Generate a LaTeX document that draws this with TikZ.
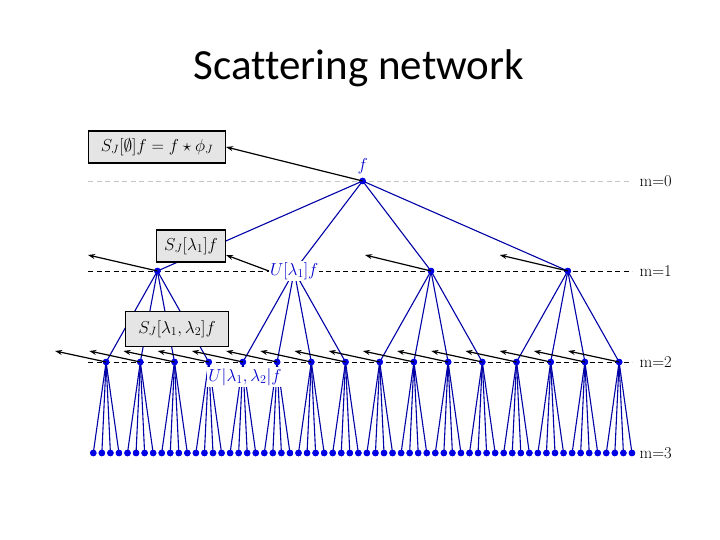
\documentclass[tikz,border=0pt]{standalone}
\usepackage{fontspec}
\newfontfamily\titlefont[Ligatures=NoCommon]{Carlito}
\usetikzlibrary{arrows.meta}
\tikzset{
  dot/.style={circle,fill=blue!90!black,inner sep=0pt,minimum size=6.5pt},
  edge/.style={blue!65!black,line width=1.1pt},
  outbox/.style={draw=black,fill=gray!20,line width=1.1pt,minimum height=32pt,font=\fontsize{16.5}{18}\selectfont},
  lab/.style={font=\fontsize{16.5}{18}\selectfont},
  outarrow/.style={-{Stealth[length=7pt,width=5pt]},line width=1.2pt},
  level/.style={dash pattern=on 5pt off 3.5pt,line width=0.9pt}
}
\begin{document}
\begin{tikzpicture}[x=1pt,y=-1pt]
  \useasboundingbox (0,0) rectangle (720,540);
  \node[font=\titlefont\fontsize{43}{48}\selectfont] (title) at (359,68) {Scattering network};
  % levels
  \draw[level,gray!45,line width=0.6pt] (88,181) -- (632,181);
  \draw[level] (88,271) -- (632,271);
  \draw[level] (88,362) -- (632,362);
  \node[lab,right] (m0) at (636,181) {m=0};
  \node[lab,right] (m1) at (636,271) {m=1};
  \node[lab,right] (m2) at (636,362) {m=2};
  \node[lab,right] (m3) at (636,453) {m=3};
  % nodes
  \node[dot] (r) at (362.6,181) {};
  \foreach \i in {1,...,4}
    \node[dot] (a\i) at ({157.4+136.8*(\i-1)},271) {};
  \foreach \j in {1,...,16}
    \node[dot] (b\j) at ({106.1+34.2*(\j-1)},362) {};
  \foreach \k in {1,...,64}
    \node[dot] (c\k) at ({93.3+8.55*(\k-1)},453) {};
  % tree
  \foreach \i in {1,...,4}
    \draw[edge] (r.center) -- (a\i.center);
  \foreach \j in {1,...,16} {
    \pgfmathtruncatemacro{\p}{int((\j-1)/4)+1}
    \draw[edge] (a\p.center) -- (b\j.center);
  }
  \foreach \k in {1,...,64} {
    \pgfmathtruncatemacro{\p}{int((\k-1)/4)+1}
    \draw[edge] (b\p.center) -- (c\k.center);
  }
  \foreach \i in {1,...,4}
    \node[dot] at (a\i) {};
  \foreach \j in {1,...,16}
    \node[dot] at (b\j) {};
  \foreach \k in {1,...,64}
    \node[dot] at (c\k) {};
  \node[dot] at (r) {};
  % outputs
  \node[outbox,minimum width=137pt] (s0) at (157,147) {$S_J[\emptyset]f = f\star\phi_J$};
  \node[outbox,minimum width=69pt] (s1) at (191,246) {$S_J[\lambda_1]f$};
  \node[outbox,minimum width=103pt,minimum height=35pt] (s2) at (177,329) {$S_J[\lambda_1,\lambda_2]f$};
  \node[lab,blue!80!black,above] (f) at (r.north) {$f$};
  \node[lab,blue!80!black,fill=white,inner sep=1pt] (u1) at (a2) {$U[\lambda_1]f$};
  \node[lab,blue!80!black,fill=white,inner sep=1pt] (u2) at (245,377) {$U|\lambda_1,\lambda_2|f$};
  \draw[outarrow] (r.center) -- (s0.east);
  \coordinate (t1) at (88,255);
  \draw[outarrow] (a1.center) -- (t1);
  \draw[outarrow] (u1.west) -- (s1.east |- t1);
  \draw[outarrow] (a3.center) -- ++(-66,-16);
  \draw[outarrow] (a4.center) -- ++(-68,-16);
  \foreach \j in {1,...,16}
    \draw[outarrow] (b\j.center) -- ++(-51,-11);
\end{tikzpicture}
\end{document}
